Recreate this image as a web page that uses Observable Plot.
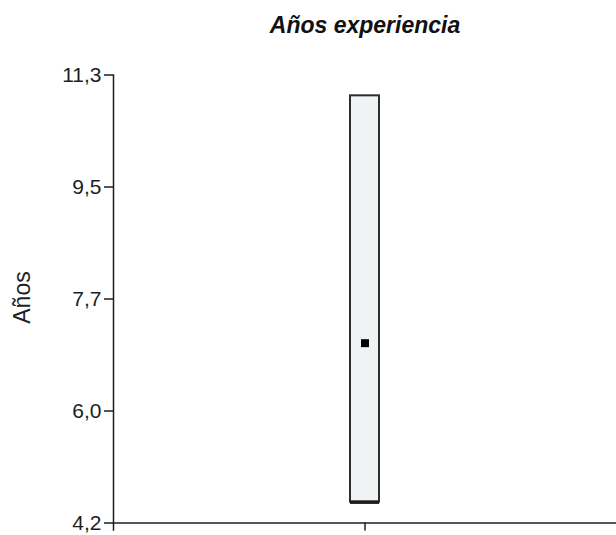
<!DOCTYPE html>
<html>
<head>
<meta charset="utf-8">
<script src="https://cdn.jsdelivr.net/npm/d3@7"></script>
<script src="https://cdn.jsdelivr.net/npm/@observablehq/plot@0.6"></script>
<style>
  html, body { margin: 0; padding: 0; background: #fff; }
</style>
</head>
<body>
<div id="chart"></div>
<script>
const categories = ["Años experiencia"];
const lowerValues = [4.53];
const upperValues = [10.97];
const meanValues = [7.05];
const yTickValues = [4.2, 5.975, 7.75, 9.525, 11.3];
const yTickLabels = ["4,2", "6,0", "7,7", "9,5", "11,3"];
const titleText = "Años experiencia";
const yLabel = "Años";

const data = categories.map((c, i) => ({cat: c, lo: lowerValues[i], hi: upperValues[i], mean: meanValues[i]}));

const W = 616, ML = 113, MR = 0;
const boxW = 29;
const inset = ((W - ML - MR) / categories.length - boxW) / 2;

const chart = Plot.plot({
  width: W,
  height: 535,
  marginLeft: ML,
  marginRight: MR,
  marginTop: 74.5,
  marginBottom: 12.5,
  style: {fontFamily: "'Liberation Sans', Arial, sans-serif", background: "white", color: "#1e1e1e"},
  x: {domain: categories, padding: 0, axis: null},
  y: {domain: [4.2, 11.3], axis: null},
  marks: [
    Plot.barY(data, {x: "cat", y1: "lo", y2: "hi", fill: "#eff3f3", stroke: "#2e2e2e", strokeWidth: 2, insetLeft: inset, insetRight: inset}),
    Plot.tickY(data, {x: "cat", y: "lo", stroke: "#1e1e1e", strokeWidth: 3.5, insetLeft: inset, insetRight: inset}),
    Plot.dot(data, {x: "cat", y: "mean", symbol: "square", r: 4.5, fill: "#000"}),
    Plot.axisY({
      ticks: yTickValues,
      tickFormat: d => yTickLabels[yTickValues.indexOf(d)],
      tickSize: 9,
      tickPadding: 3,
      fontSize: 21,
      strokeWidth: 1.5,
      label: null
    }),
    Plot.text([yLabel], {frameAnchor: "left", textAnchor: "middle", rotate: -90, dx: -91, dy: -1.5, lineAnchor: "middle", fontSize: 23, fill: "#1e1e1e"}),
    Plot.axisX({tickSize: 8, tickFormat: () => "", label: null, strokeWidth: 1.5}),
    Plot.frame({anchor: "left", stroke: "#1e1e1e", strokeWidth: 1.5, insetBottom: -7}),
    Plot.frame({anchor: "bottom", stroke: "#1e1e1e", strokeWidth: 1.5}),
    Plot.text([titleText], {frameAnchor: "top", dy: -42, lineAnchor: "bottom", fontSize: 23, fontWeight: "bold", fontStyle: "italic", fill: "#111"})
  ]
});
document.getElementById("chart").append(chart);
</script>
</body>
</html>
